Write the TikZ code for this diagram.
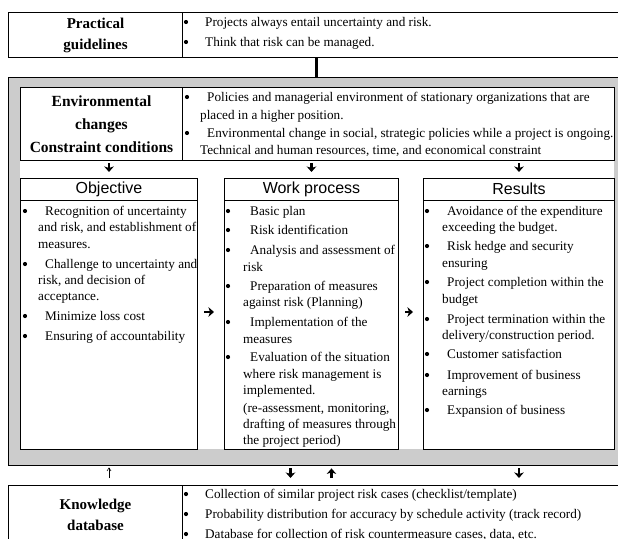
\documentclass[tikz,border=0pt]{standalone}
\usepackage{fontspec}
\setmainfont{Liberation Serif}
\setsansfont{Liberation Sans}
\usetikzlibrary{arrows.meta}

\tikzset{
  box/.style={draw, line width=1pt, fill=white, inner sep=0pt, anchor=north west},
  title/.style={font=\bfseries\fontsize{15}{21}\selectfont, align=center},
  head/.style={font=\sffamily\fontsize{16}{18}\selectfont},
  item/.style={anchor=west, inner sep=0pt, text height=9pt, text depth=2.5pt,
    font=\fontsize{13.2}{15}\selectfont},
  fat/.style={line width=2.4pt, -{Stealth[length=5.5pt,width=9.5pt,inset=1.5pt]}},
  slim/.style={line width=0.6pt, -{Straight Barb[length=3pt,width=4pt]}},
}

\begin{document}
\begin{tikzpicture}[x=1pt,y=-1pt]
\useasboundingbox (0,0) rectangle (618,538);
\clip (0,0) rectangle (618,538);

% practical guidelines
\node[box, title, minimum width=174, minimum height=45] (guide) at (8,12) {Practical\\guidelines};
\node[box, minimum width=450, minimum height=45] (guidetext) at (182,12) {};

% grey frame around the process
\node[box, fill=black!20, line width=1.4pt, minimum width=616, minimum height=388] (frame) at (8,77) {};
\draw[line width=2.6pt] (guide.south -| frame.north) -- (frame.north);
\fill[white] (20,87) rectangle (614,449);

\node[box, title, font=\bfseries\fontsize{15.5}{23}\selectfont, minimum width=162, minimum height=73] (env) at (20,87)
  {Environmental\\changes\\Constraint conditions};
\node[box, minimum width=432, minimum height=73] (envtext) at (182,87) {};

% the three columns
\node[box, minimum width=177, minimum height=271] (obj) at (20,178) {};
\node[box, minimum width=174, minimum height=271] (work) at (224,178) {};
\node[box, minimum width=191, minimum height=271] (res) at (423,178) {};
\foreach \b/\t in {obj/Objective, work/Work process, res/Results}{
  \draw[line width=1pt] ([yshift=-22pt]\b.north west) -- ([yshift=-22pt]\b.north east);
  \node[head] (\b-head) at ([yshift=-11pt]\b.north) {\t};
}

% knowledge database
\node[box, title, minimum width=174, minimum height=58] (know) at (8,485) {Knowledge\\database};
\node[box, minimum width=450, minimum height=58] (knowtext) at (182,485) {};

% arrows
\foreach \b in {obj, work, res}
  \draw[fat, shorten <=2pt, shorten >=6pt] (env.south -| \b.north) -- (\b.north);
\draw[fat, shorten <=6pt, shorten >=10pt] ([yshift=2pt]obj.east) -- ([yshift=2pt]obj.east -| work.west);
\draw[fat, shorten <=6pt, shorten >=10pt] ([yshift=2pt]work.east) -- ([yshift=2pt]work.east -| res.west);
\draw[slim, shorten <=7pt, shorten >=1pt] (know.north -| obj.south) -- (frame.south -| obj.south);
\draw[fat, shorten <=2pt, shorten >=7pt] ([xshift=-21pt]work.south |- frame.south) -- ([xshift=-21pt]work.south |- know.north);
\draw[fat, shorten <=7pt, shorten >=2pt] ([xshift=20pt]work.south |- know.north) -- ([xshift=20pt]work.south |- frame.south);
\draw[fat, shorten <=2pt, shorten >=7pt] (frame.south -| res.south) -- (know.north -| res.south);

% bullets
\foreach \x/\y in {186/22, 186/42, 187/97, 187/133, 25/211, 25/264, 25/316, 25/336,
    228/211, 228/230, 228/250, 228/286, 228/322, 228/357,
    427/211, 427/246, 427/282, 427/319, 427/354, 427/375, 427/410,
    186/494, 186/514, 186/534}
  \fill (\x,\y) circle (2.1pt);

% texts
\foreach \y/\t [count=\i] in {23/{Projects always entail uncertainty and risk.},
    43/{Think that risk can be managed.}}
  \node[item] (g\i) at (205,\y) {\t};
\foreach \x/\y/\t [count=\i] in {207/98/{Policies and managerial environment of stationary organizations that are},
    200/116/{placed in a higher position.},
    207/134/{Environmental change in social, strategic policies while a project is ongoing.},
    200/151/{Technical and human resources, time, and economical constraint}}
  \node[item] (e\i) at (\x,\y) {\t};
\foreach \x/\y/\t [count=\i] in {45/212/{Recognition of uncertainty},
    38/228/{and risk, and establishment of}, 38/245/{measures.},
    45/265/{Challenge to uncertainty and}, 38/281/{risk, and decision of},
    38/297/{acceptance.}, 45/317/{Minimize loss cost}, 45/337/{Ensuring of accountability}}
  \node[item] (o\i) at (\x,\y) {\t};
\foreach \x/\y/\t [count=\i] in {250/212/{Basic plan}, 250/231/{Risk identification},
    250/251/{Analysis and assessment of}, 243/268/{risk},
    250/287/{Preparation of measures}, 243/303/{against risk (Planning)},
    250/323/{Implementation of the}, 243/340/{measures},
    250/358/{Evaluation of the situation}, 243/375/{where risk management is},
    243/391/{implemented.}, 243/409/{(re-assessment, monitoring,},
    243/425/{drafting of measures through}, 243/441/{the project period)}}
  \node[item] (w\i) at (\x,\y) {\t};
\foreach \x/\y/\t [count=\i] in {447/212/{Avoidance of the expenditure},
    442/228/{exceeding the budget.}, 447/247/{Risk hedge and security},
    442/264/{ensuring}, 447/283/{Project completion within the}, 442/300/{budget},
    447/320/{Project termination within the}, 442/336/{delivery/construction period.},
    447/355/{Customer satisfaction}, 447/376/{Improvement of business},
    442/392/{earnings}, 447/411/{Expansion of business}}
  \node[item] (r\i) at (\x,\y) {\t};
\foreach \y/\t [count=\i] in {495/{Collection of similar project risk cases (checklist/template)},
    515/{Probability distribution for accuracy by schedule activity (track record)},
    535/{Database for collection of risk countermeasure cases, data, etc.}}
  \node[item] (k\i) at (205,\y) {\t};
\end{tikzpicture}
\end{document}
